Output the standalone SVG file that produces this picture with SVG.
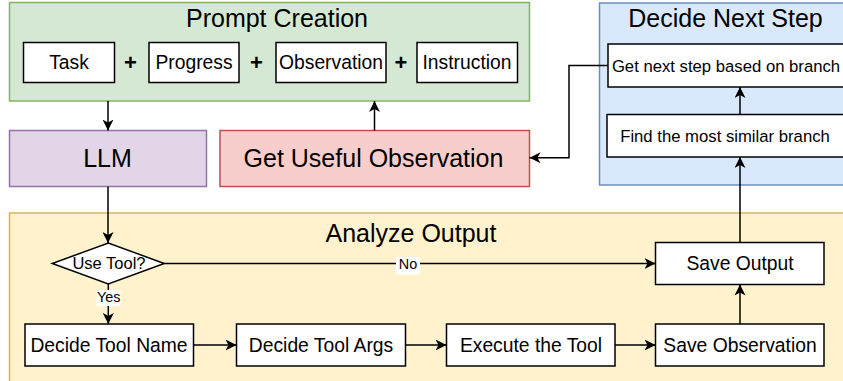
<svg xmlns="http://www.w3.org/2000/svg" width="843" height="381" viewBox="0 0 843 381">
  <defs>
    <marker id="arr" markerUnits="userSpaceOnUse" markerWidth="12" markerHeight="11" viewBox="0 0 12 11" refX="11" refY="5.5" orient="auto">
      <path d="M0,0 L11,5.5 L0,11 L3,5.5 Z" fill="#000"/>
    </marker>
    <style>
      text { font-family: "Liberation Sans", Arial, Helvetica, sans-serif; fill: #000; text-anchor: middle; }
      .title { font-size: 25px; }
      .big { font-size: 25px; }
      .node { font-size: 19.3px; }
      .small { font-size: 16.7px; }
      .lbl { font-size: 14.4px; }
      .plus { font-size: 22px; font-weight: bold; }
      .box { fill: #fff; stroke: #000; stroke-width: 1.5; }
      .edge { fill: none; stroke: #000; stroke-width: 1.5; marker-end: url(#arr); }
    </style>
  </defs>

  <!-- containers -->
  <g id="prompt-creation">
    <rect x="9.5" y="2.5" width="520" height="98.5" fill="#d5e8d4" stroke="#82b366" stroke-width="1.5"/>
    <text class="title" x="277" y="27.3">Prompt Creation</text>
  </g>
  <g id="decide-next-step">
    <rect x="599.5" y="3" width="260" height="182" fill="#dae8fc" stroke="#6c8ebf" stroke-width="1.5"/>
    <text class="title" x="725.5" y="27">Decide Next Step</text>
  </g>
  <g id="analyze-output">
    <rect x="9.5" y="213" width="850" height="180" fill="#fff2cc" stroke="#d6b656" stroke-width="1.5"/>
    <text class="title" x="411" y="242.3">Analyze Output</text>
  </g>

  <!-- prompt parts -->
  <g id="task">
    <rect class="box" x="23.5" y="42.5" width="91" height="40"/>
    <text class="node" x="69" y="69">Task</text>
  </g>
  <g id="progress">
    <rect class="box" x="149" y="42.5" width="90" height="40"/>
    <text class="node" x="194" y="69">Progress</text>
  </g>
  <g id="observation">
    <rect class="box" x="276" y="42.5" width="110" height="40"/>
    <text class="node" x="331" y="69">Observation</text>
  </g>
  <g id="instruction">
    <rect class="box" x="417" y="42.5" width="100.5" height="40"/>
    <text class="node" x="467" y="69">Instruction</text>
  </g>
  <g id="plus-signs">
    <text class="plus" x="130.5" y="69.5">+</text>
    <text class="plus" x="256.5" y="69.5">+</text>
    <text class="plus" x="401" y="69.5">+</text>
  </g>

  <g id="llm">
    <rect x="9.5" y="130.5" width="197" height="56" fill="#e1d5e7" stroke="#9673a6" stroke-width="1.5"/>
    <text class="big" x="107.5" y="166.5">LLM</text>
  </g>
  <g id="get-useful-observation">
    <rect x="220" y="130.5" width="309.5" height="56" fill="#f8cecc" stroke="#b85450" stroke-width="1.5"/>
    <text class="big" x="373.5" y="166.5">Get Useful Observation</text>
  </g>

  <g id="get-next-step">
    <rect class="box" x="608" y="44" width="240" height="43"/>
    <text class="small" x="726" y="71.5">Get next step based on branch</text>
  </g>
  <g id="find-branch">
    <rect class="box" x="607" y="114.5" width="240" height="42.5"/>
    <text class="small" x="725" y="141.5">Find the most similar branch</text>
  </g>

  <g id="use-tool">
    <polygon points="52.3,263.5 108.3,243 164.3,263.5 108.3,284" fill="#fff" stroke="#000" stroke-width="1.5"/>
    <text x="109" y="269.3" style="font-size:16.5px">Use Tool?</text>
  </g>
  <g id="save-output">
    <rect class="box" x="655.5" y="242.5" width="168.5" height="42"/>
    <text class="node" x="740" y="270.3">Save Output</text>
  </g>
  <g id="decide-tool-name">
    <rect class="box" x="25" y="324" width="168.5" height="42"/>
    <text class="node" x="109" y="351.8">Decide Tool Name</text>
  </g>
  <g id="decide-tool-args">
    <rect class="box" x="236.5" y="324" width="169" height="42"/>
    <text class="node" x="321" y="351.8">Decide Tool Args</text>
  </g>
  <g id="execute-tool">
    <rect class="box" x="446.5" y="324" width="168.5" height="42"/>
    <text class="node" x="531" y="351.8">Execute the Tool</text>
  </g>
  <g id="save-observation">
    <rect class="box" x="655.5" y="324" width="168.5" height="42"/>
    <text class="node" x="740" y="351.8">Save Observation</text>
  </g>

  <!-- connectors -->
  <g id="connectors">
    <path class="edge" d="M108,101 L108,130.5"/>
    <path class="edge" d="M374.5,130.5 L374.5,101"/>
    <path class="edge" d="M608,65.5 L569,65.5 L569,157.7 L529.5,157.7"/>
    <path class="edge" d="M108,186.5 L108,243"/>
    <path class="edge" d="M164.3,263.5 L655.5,263.5"/>
    <path class="edge" d="M108.3,284 L108.3,324"/>
    <path class="edge" d="M193.5,345 L236.5,345"/>
    <path class="edge" d="M405.5,345 L446.5,345"/>
    <path class="edge" d="M615,345 L655.5,345"/>
    <path class="edge" d="M740,324 L740,284.5"/>
    <path class="edge" d="M740,242.5 L740,157"/>
    <path class="edge" d="M740,114.5 L740,87"/>
    <rect x="396" y="257" width="24" height="17.5" fill="#fff"/>
    <text class="lbl" x="408" y="269.3">No</text>
    <rect x="96.7" y="290" width="24" height="16" fill="#fff"/>
    <text class="lbl" x="108.7" y="302">Yes</text>
  </g>
</svg>
